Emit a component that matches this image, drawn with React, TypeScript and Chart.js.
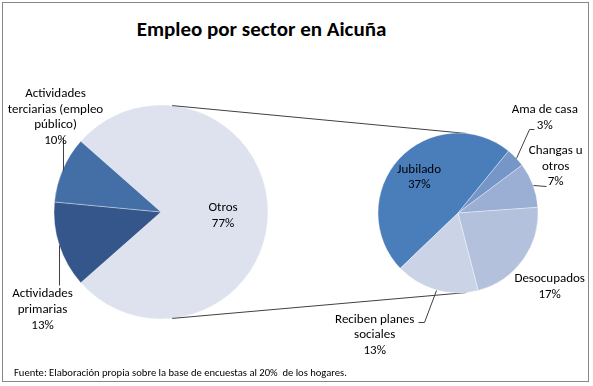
import React, { useEffect, useRef } from "react";
import { Chart, registerables } from "chart.js";

Chart.register(...registerables);

const FONT = "Carlito, Calibri, Lato, sans-serif";

// Main pie (first plot)
const mainLabels = ["Otros", "Actividades primarias", "Actividades terciarias (empleo público)"];
const mainLines = [["Otros"], ["Actividades", "primarias"], ["Actividades", "terciarias (empleo", "público)"]];
const mainValues = [77, 13, 10];
const mainColors = ["#dde2ee", "#34568b", "#436ea6"];

// Detail pie (breakdown of "Otros")
const detailLabels = ["Jubilado", "Ama de casa", "Changas u otros", "Desocupados", "Reciben planes sociales"];
const detailLines = [["Jubilado"], ["Ama de casa"], ["Changas u", "otros"], ["Desocupados"], ["Reciben planes", "sociales"]];
const detailValues = [37, 3, 7, 17, 13];
const detailColors = ["#4a7ebb", "#7796c8", "#9aafd3", "#b3c1dd", "#cbd4e7"];

const TITLE = "Empleo por sector en Aicuña";
const SOURCE = "Fuente: Elaboración propia sobre la base de encuestas al 20%  de los hogares.";

type Spec = {
  inside?: number; // radius factor for inside labels
  dx: number;
  dy: number;
  leader?: number[][];
};

const mainSpecs: Spec[] = [
  { inside: 0.58, dx: 0, dy: 4 },
  { dx: -16.7, dy: 64.7, leader: [[0, 0], [0, 40]] },
  { dx: -7.3, dy: -52.2, leader: [[0, 0], [0, -33]] },
];

const detailSpecs: Spec[] = [
  { inside: 0.66, dx: 0, dy: 0 },
  { dx: 29, dy: -39.6, leader: [[0, 0], [13, -29], [18, -29]] },
  { dx: 22.7, dy: -18.8, leader: [[0, 0], [13, 1]] },
  { dx: 26.7, dy: 26.9 },
  { dx: -61.5, dy: 45, leader: [[0, 0], [-12, 32], [-18, 32]] },
];

const LINE_H = 15.7;

function labelPlugin(id: string, lines: string[][], values: number[], specs: Spec[]) {
  return {
    id,
    afterDatasetsDraw(chart: any) {
      const ctx: CanvasRenderingContext2D = chart.ctx;
      const meta = chart.getDatasetMeta(0);
      ctx.save();
      ctx.font = `13px ${FONT}`;
      ctx.textAlign = "center";
      ctx.textBaseline = "middle";
      meta.data.forEach((arc: any, i: number) => {
        const p = arc.getProps(["x", "y", "startAngle", "endAngle", "outerRadius"], true);
        const mid = (p.startAngle + p.endAngle) / 2;
        const spec = specs[i];
        const r = spec.inside !== undefined ? spec.inside * p.outerRadius : p.outerRadius;
        const ax = p.x + Math.cos(mid) * r;
        const ay = p.y + Math.sin(mid) * r;
        if (spec.leader) {
          ctx.strokeStyle = "#404040";
          ctx.lineWidth = 1;
          ctx.beginPath();
          spec.leader.forEach((pt, k) => {
            const lx = Math.round(ax + pt[0]) + 0.5;
            const ly = Math.round(ay + pt[1]) + 0.5;
            if (k === 0) ctx.moveTo(lx, ly);
            else ctx.lineTo(lx, ly);
          });
          ctx.stroke();
        }
        const txt = [...lines[i], `${values[i]}%`];
        const cx = ax + spec.dx;
        const cy = ay + spec.dy;
        ctx.fillStyle = "#000";
        txt.forEach((t, k) => {
          ctx.fillText(t, cx, cy + (k - (txt.length - 1) / 2) * LINE_H);
        });
      });
      ctx.restore();
    },
  };
}

const CONNECT_MAIN = 84;
const CONNECT_DETAIL = 84;

function connectorPlugin(getMain: () => any) {
  return {
    id: "connectors",
    beforeDatasetsDraw(chart: any) {
      const main = getMain();
      if (!main) return;
      const a = main.getDatasetMeta(0).data[0].getProps(["x", "y", "outerRadius"], true);
      const b = chart.getDatasetMeta(0).data[0].getProps(["x", "y", "outerRadius"], true);
      const ctx: CanvasRenderingContext2D = chart.ctx;
      ctx.save();
      ctx.strokeStyle = "#404040";
      ctx.lineWidth = 1;
      [-1, 1].forEach((s) => {
        const am = (s * CONNECT_MAIN * Math.PI) / 180;
        const ad = (s * CONNECT_DETAIL * Math.PI) / 180;
        ctx.beginPath();
        ctx.moveTo(a.x + Math.cos(am) * a.outerRadius, a.y + Math.sin(am) * a.outerRadius);
        ctx.lineTo(b.x + Math.cos(ad) * b.outerRadius, b.y + Math.sin(ad) * b.outerRadius);
        ctx.stroke();
      });
      ctx.restore();
    },
  };
}

export default function App() {
  const leftRef = useRef<HTMLCanvasElement>(null);
  const rightRef = useRef<HTMLCanvasElement>(null);

  useEffect(() => {
    const mainTotal = mainValues.reduce((s, v) => s + v, 0);
    const otrosShare = mainValues[0] / mainTotal;
    const left = new Chart(leftRef.current!, {
      type: "pie",
      data: {
        labels: mainLabels,
        datasets: [
          {
            data: mainValues,
            backgroundColor: mainColors,
            borderColor: "rgba(255,255,255,0.35)",
            borderWidth: 1,
          },
        ],
      },
      options: {
        responsive: false,
        animation: false,
        events: [],
        rotation: 90 - otrosShare * 180,
        radius: 107,
        layout: { padding: { left: 51, right: 322, top: 102, bottom: 64 } },
        plugins: { legend: { display: false }, tooltip: { enabled: false }, title: { display: false } },
      },
      plugins: [labelPlugin("mainLabels", mainLines, mainValues, mainSpecs)],
    });

    const detailTotal = detailValues.reduce((s, v) => s + v, 0);
    const jubShare = detailValues[0] / detailTotal;
    const right = new Chart(rightRef.current!, {
      type: "pie",
      data: {
        labels: detailLabels,
        datasets: [
          {
            data: detailValues,
            backgroundColor: detailColors,
            borderColor: "rgba(255,255,255,0.35)",
            borderWidth: 1,
          },
        ],
      },
      options: {
        responsive: false,
        animation: false,
        events: [],
        rotation: 90 + 222.7 - jubShare * 180,
        radius: 80,
        layout: { padding: { left: 368, right: 45, top: 123, bottom: 83 } },
        plugins: { legend: { display: false }, tooltip: { enabled: false }, title: { display: false } },
      },
      plugins: [connectorPlugin(() => left), labelPlugin("detailLabels", detailLines, detailValues, detailSpecs)],
    });

    return () => {
      right.destroy();
      left.destroy();
    };
  }, []);

  return (
    <div style={{ position: "absolute", left: 0, top: 0, width: 593, height: 386, background: "#fff", overflow: "hidden" }}>
      <div
        style={{
          position: "absolute",
          left: 2,
          top: 2,
          width: 587,
          height: 380,
          border: "1px solid #878787",
          boxSizing: "border-box",
        }}
      />
      <div
        style={{
          position: "absolute",
          left: 0,
          top: 15,
          width: 523,
          textAlign: "center",
          fontFamily: FONT,
          fontWeight: "bold",
          fontSize: 21,
          lineHeight: "28px",
          color: "#000",
        }}
      >
        {TITLE}
      </div>
      <canvas ref={leftRef} width={593} height={386} style={{ position: "absolute", left: 0, top: 0 }} />
      <canvas ref={rightRef} width={593} height={386} style={{ position: "absolute", left: 0, top: 0 }} />
      <div
        style={{
          position: "absolute",
          left: 14,
          top: 365,
          fontFamily: FONT,
          fontSize: 10.6,
          lineHeight: "16px",
          color: "#000",
          whiteSpace: "pre",
        }}
      >
        {SOURCE}
      </div>
    </div>
  );
}
